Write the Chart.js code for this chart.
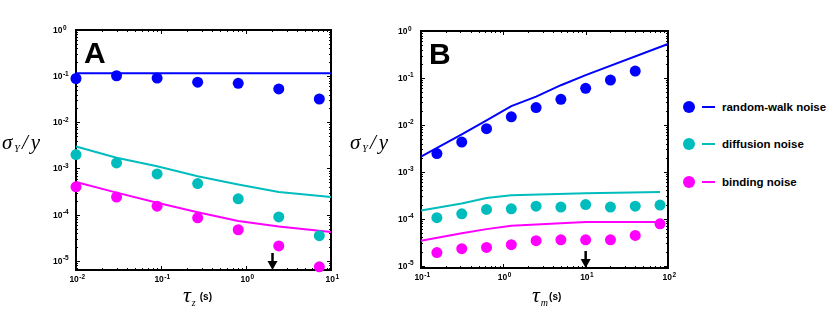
<!DOCTYPE html>
<html>
<head>
<meta charset="utf-8">
<script src="https://cdn.jsdelivr.net/npm/chart.js@4.4.0/dist/chart.umd.min.js"></script>
<style>
  body { margin: 0; background: #fff; }
  #wrap { position: relative; width: 830px; height: 320px; overflow: hidden; }
  #cA { position: absolute; left: 0; top: 0; }
  #cB { position: absolute; left: 340px; top: 0; }
  .leg { position: absolute; left: 683px; height: 14px; font: bold 11.5px "Liberation Sans", Arial, sans-serif; color: #000; white-space: nowrap; }
  .leg .dot { position: absolute; left: 0; top: 1px; width: 12px; height: 12px; border-radius: 50%; }
  .leg .ln { position: absolute; left: 19px; top: 6px; width: 13px; height: 2px; }
  .leg .tx { position: absolute; left: 39px; top: 0; line-height: 14px; }
</style>
</head>
<body>
<div id="wrap">
  <canvas id="cA" width="340" height="320"></canvas>
  <canvas id="cB" width="340" height="320"></canvas>
  <div class="leg" style="top:100px"><span class="dot" style="background:#0000ff"></span><span class="ln" style="background:#0000ff"></span><span class="tx">random-walk noise</span></div>
  <div class="leg" style="top:137px"><span class="dot" style="background:#00bdbd"></span><span class="ln" style="background:#00bdbd"></span><span class="tx">diffusion noise</span></div>
  <div class="leg" style="top:175px"><span class="dot" style="background:#ff00ff"></span><span class="ln" style="background:#ff00ff"></span><span class="tx">binding noise</span></div>
</div>
<script>
const BLUE = "#0000ff", CYAN = "#00bdbd", MAG = "#ff00ff";

// panel A: sigma_Y/y vs tau_z (s)
const tauZ = [0.01, 0.03, 0.09, 0.27, 0.81, 2.43, 7.29];
const tauZLine = [0.01, 0.03, 0.09, 0.27, 0.81, 2.43, 10];
const aWalkDots = [0.089, 0.102, 0.091, 0.074, 0.070, 0.053, 0.032];
const aWalkLine = [0.115, 0.115, 0.115, 0.115, 0.115, 0.115, 0.115];
const aDiffDots = [0.0020, 0.00132, 0.00076, 0.00047, 0.00022, 0.000089, 0.000035];
const aDiffLine = [0.0030, 0.0017, 0.00112, 0.00068, 0.00045, 0.00031, 0.00024];
const aBindDots = [0.00040, 0.00024, 0.000152, 0.000085, 0.000047, 0.000021, 0.0000074];
const aBindLine = [0.00051, 0.00030, 0.000181, 0.000113, 0.000073, 0.000055, 0.000042];
const aArrow = 2.05;

// panel B: sigma_Y/y vs tau_m (s)
const tauM = [0.156, 0.3125, 0.625, 1.25, 2.5, 5, 10, 20, 40, 80];
const bWalkDots = [0.00245, 0.0043, 0.0083, 0.0148, 0.0234, 0.035, 0.060, 0.090, 0.14];
const bWalkLineX = [0.1, 0.3125, 0.625, 1.25, 2.5, 5, 10, 100];
const bWalkLine = [0.0021, 0.0063, 0.0125, 0.025, 0.040, 0.070, 0.115, 0.53];
const bDiffDots = [1.05e-4, 1.27e-4, 1.58e-4, 1.63e-4, 1.85e-4, 1.77e-4, 2.0e-4, 1.77e-4, 1.85e-4, 1.95e-4];
const bLineX = [0.1, 0.3125, 0.625, 1.25, 10, 80];
const bDiffLine = [1.5e-4, 2.1e-4, 2.75e-4, 3.15e-4, 3.5e-4, 3.7e-4];
const bBindDots = [1.9e-5, 2.3e-5, 2.45e-5, 2.8e-5, 3.4e-5, 3.55e-5, 3.55e-5, 3.55e-5, 4.4e-5, 7.8e-5];
const bBindLine = [3.4e-5, 4.9e-5, 6.0e-5, 7.1e-5, 8.5e-5, 8.5e-5];
const bArrow = 10;

const yExps = [0, -1, -2, -3, -4, -5];

const pts = (xs, ys) => ys.map((y, i) => ({ x: xs[i], y }));
const dots = (d, c) => ({ data: d, backgroundColor: c, borderColor: c, pointRadius: 5.5, pointHoverRadius: 5.5, borderWidth: 0, showLine: false, clip: false, order: 1 });
const line = (d, c) => ({ data: d, borderColor: c, backgroundColor: c, borderWidth: 2, pointRadius: 0, showLine: true, clip: 2, order: 2 });

const SANS = '"Liberation Sans", Arial, sans-serif';
const SERIF = '"Liberation Serif", "Times New Roman", serif';

function drawLabel(ctx, x, base, exp, align) {
  ctx.font = "bold 8.5px " + SANS;
  const w1 = ctx.measureText("10").width;
  ctx.font = "bold 6.5px " + SANS;
  const w2 = ctx.measureText(exp).width;
  const x0 = align === "center" ? x - (w1 + w2) / 2 : x;
  ctx.textAlign = "left";
  ctx.textBaseline = "alphabetic";
  ctx.font = "bold 8.5px " + SANS;
  ctx.fillText("10", x0, base);
  ctx.font = "bold 6.5px " + SANS;
  ctx.fillText(exp, x0 + w1 + 0.5, base - 3.5);
}

const decorate = {
  id: "decorate",
  beforeDatasetsDraw(chart, args, o) {
    const { ctx, chartArea: a, scales } = chart;
    ctx.save();
    ctx.strokeStyle = "#000";
    ctx.lineWidth = 2;
    ctx.strokeRect(a.left, a.top, a.right - a.left, a.bottom - a.top);
    ctx.lineWidth = 1;
    // inside ticks
    const xs = scales.x, ys = scales.y;
    ctx.beginPath();
    for (let e = Math.floor(Math.log10(xs.min)); e <= Math.ceil(Math.log10(xs.max)); e++) {
      for (let m = 1; m < 10; m++) {
        const v = m * Math.pow(10, e);
        if (v < xs.min * 0.999 || v > xs.max * 1.001) continue;
        const px = Math.round(xs.getPixelForValue(v)) + 0.5;
        const len = m === 1 ? 4 : 2;
        ctx.moveTo(px, a.bottom); ctx.lineTo(px, a.bottom - len);
        ctx.moveTo(px, a.top); ctx.lineTo(px, a.top + len);
      }
    }
    for (let e = -6; e <= 0; e++) {
      for (let m = 1; m < 10; m++) {
        const v = m * Math.pow(10, e);
        if (v < ys.min * 0.999 || v > ys.max * 1.001) continue;
        const py = Math.round(ys.getPixelForValue(v)) + 0.5;
        const len = m === 1 ? 4 : 2;
        ctx.moveTo(a.left, py); ctx.lineTo(a.left + len, py);
        ctx.moveTo(a.right, py); ctx.lineTo(a.right - len, py);
      }
    }
    ctx.stroke();
    // tick labels
    ctx.fillStyle = "#000";
    yExps.forEach(e => {
      const py = ys.getPixelForValue(Math.pow(10, e));
      drawLabel(ctx, a.left - 23, py + 3, String(e), "left");
    });
    o.xExps.forEach(e => {
      const px = xs.getPixelForValue(Math.pow(10, e));
      drawLabel(ctx, px + 1, a.bottom + 12, String(e), "center");
    });
    ctx.restore();
  },
  afterDatasetsDraw(chart, args, o) {
    const { ctx, chartArea: a, scales } = chart;
    ctx.save();
    ctx.fillStyle = "#000";
    ctx.strokeStyle = "#000";
    // arrow
    const ax = scales.x.getPixelForValue(o.arrow);
    ctx.lineWidth = 2.5;
    ctx.beginPath();
    ctx.moveTo(ax, a.bottom - 17);
    ctx.lineTo(ax, a.bottom - 7);
    ctx.stroke();
    ctx.beginPath();
    ctx.moveTo(ax - 5, a.bottom - 9);
    ctx.lineTo(ax + 5, a.bottom - 9);
    ctx.lineTo(ax, a.bottom);
    ctx.closePath();
    ctx.fill();
    // panel letter
    ctx.font = "bold 30px " + SANS;
    ctx.textAlign = "left";
    ctx.textBaseline = "alphabetic";
    ctx.fillText(o.letter, a.left + 8, a.top + 33);
    // y title
    let x = o.yTitleX;
    const yb = 148.5;
    ctx.font = "italic 21px " + SERIF;
    ctx.fillText("\u03c3", x, yb);
    x += ctx.measureText("\u03c3").width + 2;
    ctx.font = "italic 10px " + SERIF;
    ctx.fillText("Y", x, yb + 3);
    x += ctx.measureText("Y").width + 2;
    ctx.font = "italic 21px " + SERIF;
    ctx.fillText("/", x, yb);
    x += ctx.measureText("/").width + 3;
    ctx.fillText("y", x, yb);
    // x title
    x = o.xTitleX;
    const xb = 301.5;
    ctx.font = "italic 22px " + SERIF;
    ctx.fillText("\u03c4", x, xb);
    x += ctx.measureText("\u03c4").width + 1;
    ctx.font = "italic 10px " + SERIF;
    ctx.fillText(o.sub, x, xb + 4);
    x += ctx.measureText(o.sub).width + o.gap;
    ctx.font = "bold 10px " + SANS;
    ctx.fillText("(s)", x, xb - 2);
    ctx.restore();
  }
};

function makeChart(id, datasets, xr, yr, pad, yw, xh, opts) {
  return new Chart(document.getElementById(id), {
    type: "scatter",
    data: { datasets },
    options: {
      responsive: false,
      animation: false,
      devicePixelRatio: 1,
      layout: { padding: pad },
      plugins: { legend: { display: false }, tooltip: { enabled: false }, decorate: opts },
      scales: {
        x: {
          type: "logarithmic", min: xr[0], max: xr[1],
          ticks: { display: false }, grid: { display: false }, border: { display: false },
          afterFit: s => { s.height = xh; }
        },
        y: {
          type: "logarithmic", min: yr[0], max: yr[1],
          ticks: { display: false }, grid: { display: false }, border: { display: false },
          afterFit: s => { s.width = yw; }
        }
      }
    },
    plugins: [decorate]
  });
}

makeChart("cA", [
  dots(pts(tauZ, aWalkDots), BLUE),
  dots(pts(tauZ, aDiffDots), CYAN),
  dots(pts(tauZ, aBindDots), MAG),
  line(pts(tauZLine, aWalkLine), BLUE),
  line(pts(tauZLine, aDiffLine), CYAN),
  line(pts(tauZLine, aBindLine), MAG)
], [0.01, 10], [Math.pow(10, -5.2), 1], { top: 30, right: 9, left: 0, bottom: 0 }, 76, 50,
  { letter: "A", arrow: aArrow, xExps: [-2, -1, 0, 1], yTitleX: 2, xTitleX: 183, sub: "z", gap: 4 });

makeChart("cB", [
  dots(pts(tauM, bWalkDots), BLUE),
  dots(pts(tauM, bDiffDots), CYAN),
  dots(pts(tauM, bBindDots), MAG),
  line(pts(bWalkLineX, bWalkLine), BLUE),
  line(pts(bLineX, bDiffLine), CYAN),
  line(pts(bLineX, bBindLine), MAG)
], [0.1, 100], [Math.pow(10, -5.05), 1], { top: 31, right: 12, left: 0, bottom: 0 }, 81, 52,
  { letter: "B", arrow: bArrow, xExps: [-1, 0, 1, 2], yTitleX: 10, xTitleX: 192, sub: "m", gap: 1 });
</script>
</body>
</html>
